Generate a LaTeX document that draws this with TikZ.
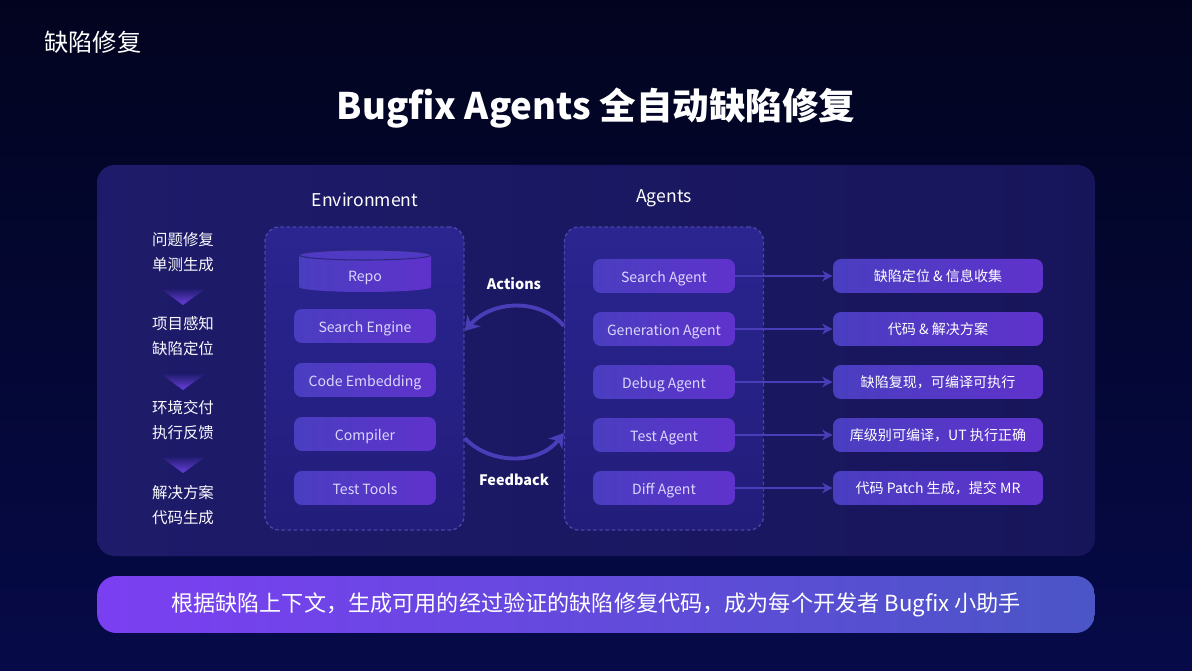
\documentclass[tikz,border=0pt]{standalone}
\usepackage{fontspec}
\setmainfont{Noto Sans CJK SC}
\usetikzlibrary{arrows.meta}

\definecolor{bgtop}{HTML}{02041F}
\definecolor{bgbot}{HTML}{060A48}
\definecolor{panelL}{HTML}{1E1B6A}
\definecolor{panelR}{HTML}{17155A}
\definecolor{dashtop}{HTML}{2A2590}
\definecolor{dashbot}{HTML}{221D7A}
\definecolor{dashline}{HTML}{4A44A8}
\definecolor{boxL}{HTML}{4A3EC0}
\definecolor{boxR}{HTML}{5F32CC}
\definecolor{boxtext}{HTML}{DCD6FF}
\definecolor{rimc}{HTML}{2E2780}
\definecolor{flowc}{HTML}{4A3DB8}
\definecolor{bannerL}{HTML}{7B3FF2}
\definecolor{bannerR}{HTML}{4B55C6}
\definecolor{triTop}{HTML}{221C70}
\definecolor{triBot}{HTML}{6A40DD}

\begin{document}
\begin{tikzpicture}[x=0.02cm,y=-0.02cm,
	itembox/.style={rounded corners=4.5pt,left color=boxL,right color=boxR,minimum width=2.84cm,minimum height=0.68cm,text=boxtext,text height=0.88em,text depth=0.1em,font=\fontsize{8}{10}\selectfont},
	resultbox/.style={rounded corners=4.5pt,left color=boxL,right color=boxR,minimum width=4.2cm,minimum height=0.68cm,text=white,font=\fontsize{8}{10}\selectfont},
	dashbox/.style={draw=dashline,dash pattern=on 2pt off 1.5pt,line width=0.8pt,rounded corners=8pt,top color=dashtop,bottom color=dashbot,minimum width=3.98cm,minimum height=6.06cm},
	colhead/.style={text=white,font=\fontsize{10}{12}\selectfont},
	steptext/.style={text=white!88!boxtext,align=center,font=\fontsize{8.8}{14.2}\selectfont},
	looplabel/.style={text=white,font=\bfseries\fontsize{8.2}{10}\selectfont},
	flowline/.style={draw=flowc,line width=1.1pt,-{Stealth[length=6pt,width=6pt]}},
	cyclearc/.style={draw=flowc,line width=2.2pt,-{Stealth[length=8pt,width=10pt]}}]
			\useasboundingbox (0,0) rectangle (1192,671);
			\shade[top color=bgtop,bottom color=bgbot] (0,0) rectangle (1192,671);
			% Headings
			\node[anchor=west,inner sep=0,text=white,font=\fontsize{13.8}{16}\selectfont] (pagetag) at (44,42) {缺陷修复};
			\node[text=white,font=\bfseries\fontsize{20.8}{25}\selectfont] (title) at (596,108) {Bugfix Agents 全自动缺陷修复};
			% Main panel
			\shade[left color=panelL,right color=panelR,rounded corners=10pt] (97,165) rectangle (1095,556);
			
			% Steps on the left
			\node[steptext] (step1) at (183,252.5) {问题修复\\单测生成};
			\node[steptext] (step2) at (183,336.5) {项目感知\\缺陷定位};
			\node[steptext] (step3) at (183,420.5) {环境交付\\执行反馈};
			\node[steptext] (step4) at (183,505.5) {解决方案\\代码生成};
			\shade[top color=triTop,bottom color=triBot] (161,289) -- (205,289) -- (183,305) -- cycle;
			\shade[top color=triTop,bottom color=triBot] (161,374) -- (205,374) -- (183,390) -- cycle;
			\shade[top color=triTop,bottom color=triBot] (161,457) -- (205,457) -- (183,473) -- cycle;
			
			% Environment
			\node[colhead] (envhead) at (365,200) {Environment};
			\node[dashbox] (envbox) at (364.5,378.5) {};
			\shade[left color=boxL,right color=boxR] (299,255) -- (299,287) arc[start angle=180,end angle=0,x radius=66,y radius=5] -- (431,255) -- cycle;
			\filldraw[fill=boxL!70!boxR,draw=rimc,line width=0.6pt] (365,255) ellipse (66 and 5);
			\node[text=boxtext,text height=0.88em,text depth=0.1em,font=\fontsize{8}{10}\selectfont] (repo) at (365,275) {Repo};
			\node[itembox] (engine) at (365,326) {Search Engine};
			\node[itembox] (embed) at (365,380) {Code Embedding};
			\node[itembox] (compiler) at (365,434) {Compiler};
			\node[itembox] (testtools) at (365,488) {Test Tools};
			
			% Agents
			\node[colhead] (agenthead) at (664,198) {Agents};
			\node[dashbox] (agentbox) at (664,378.5) {};
			\node[itembox] (agSearch) at (664,276) {Search Agent};
			\node[itembox] (agGen) at (664,329) {Generation Agent};
			\node[itembox] (agDebug) at (664,382) {Debug Agent};
			\node[itembox] (agTest) at (664,435) {Test Agent};
			\node[itembox] (agDiff) at (664,488) {Diff Agent};
			
			% Results
			\node[resultbox] (resSearch) at (938,276) {缺陷定位 \& 信息收集};
			\node[resultbox] (resGen) at (938,329) {代码 \& 解决方案};
			\node[resultbox] (resDebug) at (938,382) {缺陷复现，可编译可执行};
			\node[resultbox] (resTest) at (938,435) {库级别可编译，UT 执行正确};
			\node[resultbox] (resDiff) at (938,488) {代码 Patch 生成，提交 MR};
			\draw[flowline] (agSearch.east) -- (resSearch.west);
			\draw[flowline] (agGen.east) -- (resGen.west);
			\draw[flowline] (agDebug.east) -- (resDebug.west);
			\draw[flowline] (agTest.east) -- (resTest.west);
			\draw[flowline] (agDiff.east) -- (resDiff.west);
			
			% Actions / Feedback loop
			\draw[cyclearc] ([yshift=30pt]agentbox.west) .. controls (540,298) and (492,300) .. ([yshift=27pt]envbox.east);
			\draw[cyclearc] ([yshift=-34pt]envbox.east) .. controls (492,466) and (540,464) .. ([yshift=-31pt]agentbox.west);
			\node[looplabel] (actions) at (514,284) {Actions};
			\node[looplabel] (feedback) at (514,480) {Feedback};
			
			% Banner
			\node[rounded corners=11pt,left color=bannerL,right color=bannerR,minimum width=19.96cm,minimum height=1.14cm,text=white,font=\fontsize{12.6}{14}\selectfont] (motto) at (596,604.5) {根据缺陷上下文，生成可用的经过验证的缺陷修复代码，成为每个开发者 Bugfix 小助手};
			
		\end{tikzpicture}
\end{document}
